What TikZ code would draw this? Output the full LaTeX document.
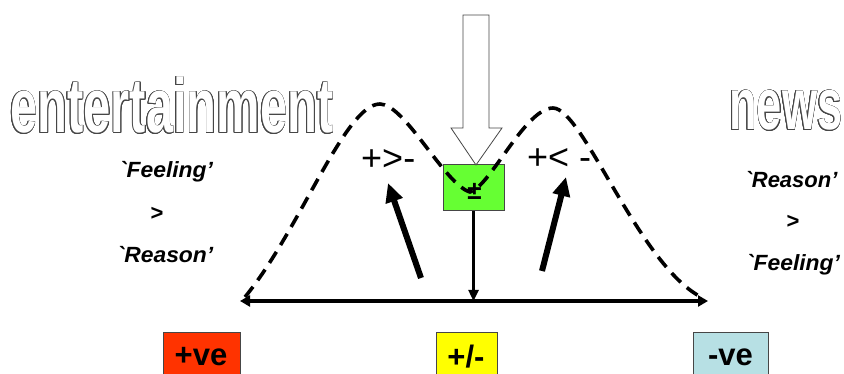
\documentclass[tikz,border=0pt]{standalone}
\usepackage{fontspec}
\setmainfont{Liberation Sans}
\usepackage{graphicx}
\usetikzlibrary{arrows.meta,calc}
\definecolor{boxgreen}{RGB}{102,255,51}
\definecolor{boxred}{RGB}{255,51,0}
\definecolor{boxyellow}{RGB}{255,255,0}
\definecolor{boxcyan}{RGB}{183,224,228}
\definecolor{edgegray}{RGB}{70,70,70}
\newcommand\grv{\textasciigrave}
\newcommand\bigword[1]{\fontsize{#1}{#1}\selectfont\bfseries}
\tikzset{
  colbox/.style={draw=edgegray, line width=1pt, inner sep=0pt},
  boxtext/.style={inner sep=0pt, font=\fontsize{31}{31}\selectfont\bfseries},
  sidelabel/.style={anchor=base, inner sep=0pt, font=\fontsize{22}{22}\selectfont\bfseries\itshape},
  sidegt/.style={anchor=base, inner sep=0pt, font=\fontsize{22}{22}\selectfont\bfseries},
  cmpLabel/.style={anchor=base west, inner sep=0pt, font=\fontsize{36}{36}\selectfont},
  dashcurve/.style={line width=3.6pt, dash pattern=on 13pt off 8pt},
  axisline/.style={line width=3.6pt, {Triangle[length=10pt,width=11pt]}-{Triangle[length=10pt,width=11pt]}},
  downline/.style={line width=2.4pt, -{Triangle[length=11pt,width=10pt]}},
  thickarrow/.style={line width=6pt, -{Triangle[length=19pt,width=17pt]}},
  hollowarrow/.style={draw=edgegray, fill=white, line width=0.8pt, line join=miter},
  outword/.style={anchor=base west, inner sep=0pt},
}
\begin{document}
\begin{tikzpicture}[x=1pt,y=-1pt]
\useasboundingbox (0,0) rectangle (844,374);
\begin{scope}
\clip (0,0) rectangle (844,374);

% outlined big words
\foreach \ang in {0,22.5,...,337.5}{
  \node[outword, text=edgegray] at ($(10,133)+(\ang:0.75pt)$) {\scalebox{0.635}[1]{\bigword{77}entertainment}};
  \node[outword, text=edgegray] at ($(729,130)+(\ang:0.75pt)$) {\scalebox{0.62}[1]{\bigword{73}news}};
}
\node[outword, text=white] (ent) at (10,133) {\scalebox{0.635}[1]{\bigword{77}entertainment}};
\node[outword, text=white] (news) at (729,130) {\scalebox{0.62}[1]{\bigword{73}news}};

% side labels
\node[sidelabel] (lf) at (166,178) {\scalebox{1.04}[1]{\grv Feeling’}};
\node[sidegt] (lg) at (157,221) {>};
\node[sidelabel] (lr) at (165,263) {\scalebox{1.04}[1]{\grv Reason’}};
\node[sidelabel] (rr) at (791,188) {\scalebox{1.0}[1]{\grv Reason’}};
\node[sidegt] (rg) at (793,229) {>};
\node[sidelabel] (rf) at (793,271) {\scalebox{1.04}[1]{\grv Feeling’}};

% bottom boxes
\node[colbox, fill=boxred, minimum width=77pt, minimum height=52pt] (pos) at (201.5,358) {};
\node[boxtext] (post) at (201,357) {+ve};
\node[colbox, fill=boxyellow, minimum width=61pt, minimum height=52pt] (mix) at (466.5,358) {};
\node[boxtext] (mixt) at (466,357) {+/-};
\node[colbox, fill=boxcyan, minimum width=75pt, minimum height=52pt] (neg) at (730.5,358) {};
\node[boxtext] (negt) at (730.5,357) {-ve};

% green box
\node[draw=edgegray, line width=1pt, fill=boxgreen, minimum width=61pt, minimum height=46pt, inner sep=0pt] (pm) at (473.5,188) {};
\node[inner sep=0pt, font=\fontsize{26}{26}\selectfont\bfseries] (pmt) at (474.5,191) {±};

% hollow arrow from top
\draw[hollowarrow] (463,15) -- (489,15) -- (489,128) -- (502,128) -- (476,165) -- (451,128) -- (463,128) -- cycle;

% axis
\coordinate (axL) at (240,301);
\coordinate (axR) at (708,301);
\draw[axisline] (axL) -- (axR);
\draw[downline] (pm.south) -- (pm.south |- axL);

% comparison labels
\node[cmpLabel] (gtl) at (361,171) {+>-};
\node[cmpLabel] (ltl) at (527,170) {+< -};

% thick arrows
\coordinate (la0) at (421,278);
\coordinate (la1) at (388,183);
\coordinate (ra0) at (542,271);
\coordinate (ra1) at (566,177);
\draw[thickarrow] (la0) -- (la1);
\draw[thickarrow] (ra0) -- (ra1);

% dashed bimodal curve
\draw[dashcurve] (245,297) .. controls (300,230) and (345,104) .. (380,104)
  .. controls (405,104) and (445,185) .. (470,192)
  .. controls (490,187) and (525,108) .. (553,108)
  .. controls (583,108) and (640,268) .. (703,298);
\end{scope}
\end{tikzpicture}
\end{document}
